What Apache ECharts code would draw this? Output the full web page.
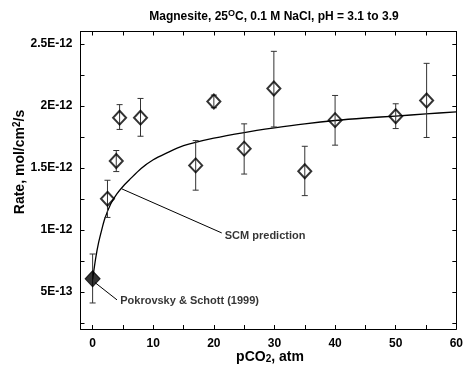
<!DOCTYPE html>
<html>
<head>
<meta charset="utf-8">
<script src="https://cdn.jsdelivr.net/npm/echarts@6/dist/echarts.min.js"></script>
<style>html,body{margin:0;padding:0;background:#fff}#c{width:466px;height:366px}</style>
</head>
<body>
<div id="c"></div>
<script>
// Rate values in units of 1E-12 mol/cm2/s
var openX  = [2.45, 3.9, 4.45, 7.9, 17.0, 20.0, 25.0, 29.9, 35.0, 40.0, 50.0, 55.1];
var openY  = [1.25, 1.555, 1.905, 1.905, 1.52, 2.035, 1.655, 2.14, 1.472, 1.885, 1.917, 2.044];
var openLo = [1.10, 1.47, 1.81, 1.755, 1.32, 1.985, 1.45, 1.83, 1.276, 1.683, 1.817, 1.745];
var openHi = [1.40, 1.64, 2.01, 2.06, 1.72, 2.087, 1.855, 2.44, 1.674, 2.084, 2.017, 2.343];

var refX  = [0];
var refY  = [0.605];
var refLo = [0.41];
var refHi = [0.805];

var scmX = [0, 0.5, 1, 1.5, 2, 3, 4, 5, 6, 8, 10, 12, 15, 20, 25, 30, 35, 40, 45, 50, 55, 60];
var scmY = [0.6, 0.77, 0.9, 1.0, 1.09, 1.21, 1.29, 1.35, 1.40, 1.495, 1.565, 1.615, 1.68, 1.74, 1.785, 1.822, 1.855, 1.882, 1.902, 1.918, 1.935, 1.952];

var scmLeaderX = [4.84, 21.3];
var scmLeaderY = [1.33, 0.975];
var refLeaderX = [0.38, 4.02];
var refLeaderY = [0.575, 0.435];

var annoX = [21.8, 4.55];
var annoY = [0.95, 0.43];
var annoText = ['SCM prediction', 'Pokrovsky & Schott (1999)'];

var xTickValues = [0, 5, 10, 15, 20, 25, 30, 35, 40, 45, 50, 55, 60];
var xLabelValues = [0, 10, 20, 30, 40, 50, 60];
var yTickValues = [0.25, 0.5, 0.75, 1.0, 1.25, 1.5, 1.75, 2.0, 2.25, 2.5];
var yLabelValues = [0.5, 1.0, 1.5, 2.0, 2.5];
var yLabelText = ['5E-13', '1E-12', '1.5E-12', '2E-12', '2.5E-12'];

var titleText = 'Magnesite, 25{sup|O}C, 0.1 M NaCl, pH = 3.1 to 3.9';
var xName = 'pCO{sub|2}, atm';
var yName = 'Rate, mol/cm{sup|2}/s';

var FONT = '"Liberation Sans", Arial, Helvetica, sans-serif';
var chart = echarts.init(document.getElementById('c'));

function zip(a, b) { return a.map(function (v, i) { return [v, b[i]]; }); }
function errData(x, y, lo, hi) { return x.map(function (v, i) { return [v, y[i], lo[i], hi[i]]; }); }

function errRender(params, api) {
  var x = api.value(0), lo = api.value(2), hi = api.value(3);
  var p1 = api.coord([x, hi]), p2 = api.coord([x, lo]);
  var w = 3;
  var st = { stroke: '#333', lineWidth: 1 };
  return {
    type: 'group',
    children: [
      { type: 'line', shape: { x1: p1[0], y1: p1[1], x2: p2[0], y2: p2[1] }, style: st },
      { type: 'line', shape: { x1: p1[0] - w, y1: p1[1], x2: p1[0] + w, y2: p1[1] }, style: st },
      { type: 'line', shape: { x1: p2[0] - w, y1: p2[1], x2: p2[0] + w, y2: p2[1] }, style: st }
    ]
  };
}

function yFmt(v) {
  for (var i = 0; i < yLabelValues.length; i++) {
    if (Math.abs(yLabelValues[i] - v) < 1e-6) return yLabelText[i];
  }
  return '';
}

var axisLine = { show: true, onZero: false, lineStyle: { color: '#000', width: 1 } };
var tickStyle = { lineStyle: { color: '#000', width: 1 } };

var option = {
  animation: false,
  backgroundColor: '#fff',
  grid: { left: 80.5, top: 31.5, right: 6, bottom: 37, containLabel: false },
  xAxis: [
    {
      type: 'value', min: -2, max: 60, position: 'bottom',
      axisLine: axisLine,
      axisTick: { show: true, inside: true, length: 4, customValues: xTickValues, lineStyle: tickStyle.lineStyle },
      axisLabel: { show: true, customValues: xLabelValues, margin: 9, color: '#000', fontFamily: FONT, fontWeight: 'bold', fontSize: 12 },
      splitLine: { show: false }
    },
    {
      type: 'value', min: -2, max: 60, position: 'top',
      axisLine: axisLine,
      axisTick: { show: true, inside: true, length: 4, customValues: xTickValues, lineStyle: tickStyle.lineStyle },
      axisLabel: { show: false },
      splitLine: { show: false }
    }
  ],
  yAxis: [
    {
      type: 'value', min: 0.2, max: 2.6, position: 'left',
      axisLine: axisLine,
      axisTick: { show: true, inside: true, length: 4, customValues: yTickValues, lineStyle: tickStyle.lineStyle },
      axisLabel: { show: true, customValues: yLabelValues, formatter: yFmt, margin: 8, color: '#000', fontFamily: FONT, fontWeight: 'bold', fontSize: 12 },
      splitLine: { show: false }
    },
    {
      type: 'value', min: 0.2, max: 2.6, position: 'right',
      axisLine: axisLine,
      axisTick: { show: true, inside: true, length: 4, customValues: yTickValues, lineStyle: tickStyle.lineStyle },
      axisLabel: { show: false },
      splitLine: { show: false }
    }
  ],
  graphic: [
    {
      type: 'text', x: 274, y: 17,
      style: {
        text: titleText, align: 'center', verticalAlign: 'middle',
        font: 'bold 12px ' + FONT, fill: '#000',
        rich: { sup: { fontSize: 9, fontWeight: 'bold', fontFamily: FONT, padding: [0, 0, 6, 0], fill: '#000' } }
      }
    },
    {
      type: 'text', x: 270, y: 357,
      style: {
        text: xName, align: 'center', verticalAlign: 'middle',
        font: 'bold 14px ' + FONT, fill: '#000',
        rich: { sub: { fontSize: 10, fontWeight: 'bold', fontFamily: FONT, padding: [5, 0, 0, 0], fill: '#000' } }
      }
    },
    {
      type: 'text', x: 20, y: 162, rotation: Math.PI / 2,
      style: {
        text: yName, align: 'center', verticalAlign: 'middle',
        font: 'bold 14px ' + FONT, fill: '#000',
        rich: { sup: { fontSize: 10, fontWeight: 'bold', fontFamily: FONT, padding: [0, 0, 6, 0], fill: '#000' } }
      }
    }
  ],
  series: [
    {
      type: 'line', data: zip(scmX, scmY), smooth: 0.3, symbol: 'none',
      lineStyle: { color: '#000', width: 1.3 }, z: 2
    },
    {
      type: 'line', data: zip(scmLeaderX, scmLeaderY), symbol: 'none',
      lineStyle: { color: '#000', width: 1 }, z: 2
    },
    {
      type: 'line', data: zip(refLeaderX, refLeaderY), symbol: 'none',
      lineStyle: { color: '#000', width: 1 }, z: 2
    },
    {
      type: 'custom', renderItem: errRender, data: errData(openX, openY, openLo, openHi), z: 3
    },
    {
      type: 'custom', renderItem: errRender, data: errData(refX, refY, refLo, refHi), z: 3
    },
    {
      type: 'scatter', data: zip(openX, openY), symbol: 'diamond', symbolSize: [13, 14],
      itemStyle: { color: 'rgba(0,0,0,0)', borderColor: '#000', borderWidth: 2 }, z: 4
    },
    {
      type: 'scatter', data: zip(refX, refY), symbol: 'diamond', symbolSize: [15, 16],
      itemStyle: { color: '#000', borderColor: '#000', borderWidth: 1 }, z: 4
    },
    {
      type: 'scatter', data: zip(annoX, annoY), symbolSize: 0, silent: true,
      label: {
        show: true, position: 'right', distance: 0,
        formatter: function (p) { return annoText[p.dataIndex]; },
        color: '#000', fontFamily: FONT, fontWeight: 'bold', fontSize: 11
      }, z: 5
    }
  ]
};
chart.setOption(option);
</script>
</body>
</html>
